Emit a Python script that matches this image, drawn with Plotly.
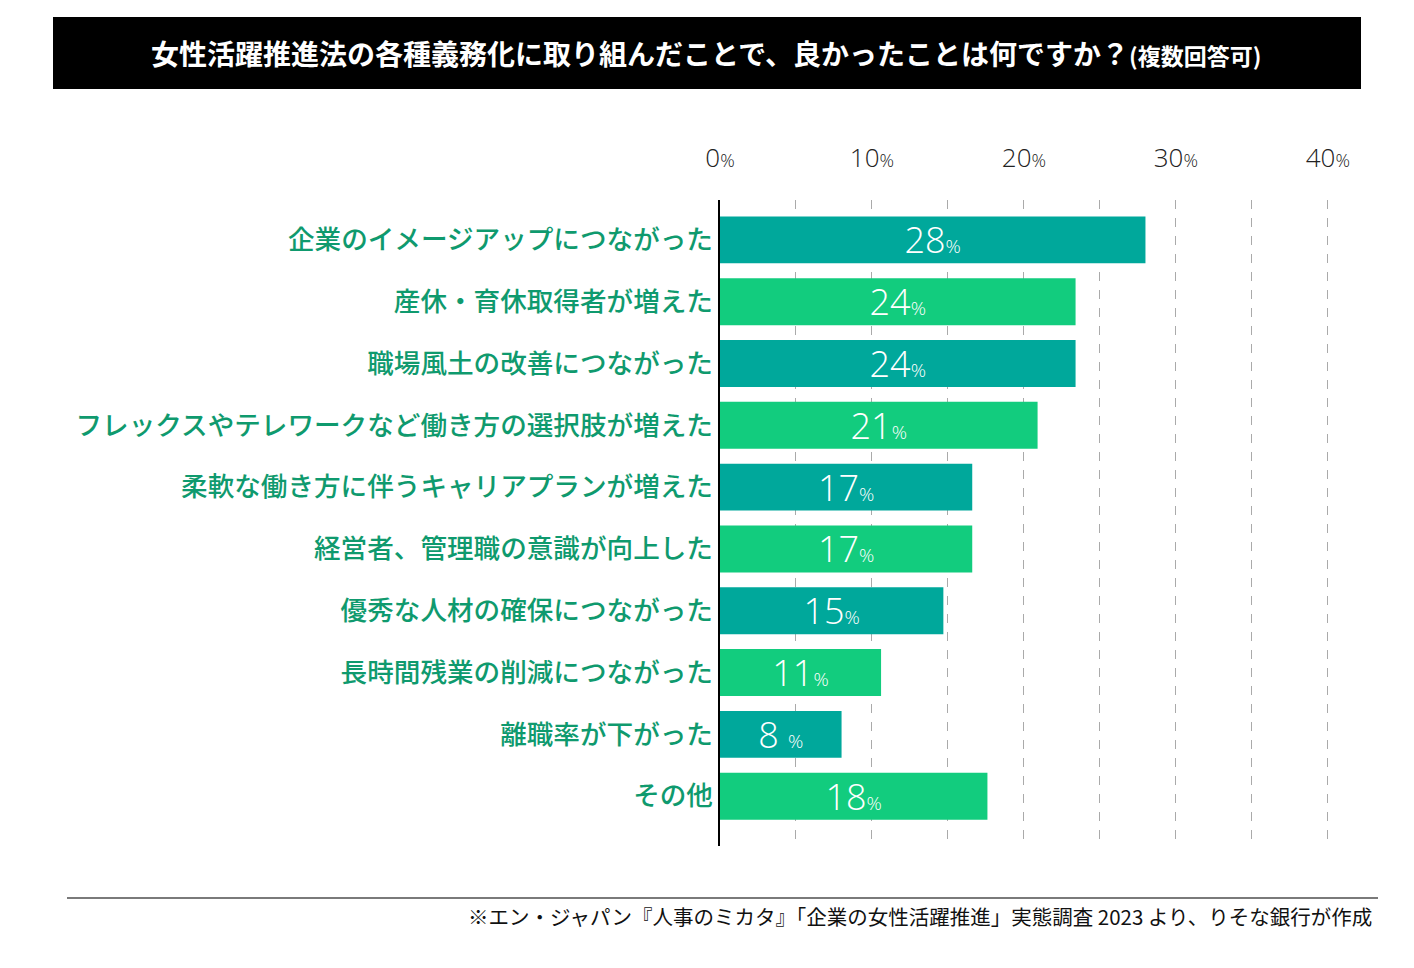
import plotly.graph_objects as go

categories = [
    "企業のイメージアップにつながった",
    "産休・育休取得者が増えた",
    "職場風土の改善につながった",
    "フレックスやテレワークなど働き方の選択肢が増えた",
    "柔軟な働き方に伴うキャリアプランが増えた",
    "経営者、管理職の意識が向上した",
    "優秀な人材の確保につながった",
    "長時間残業の削減につながった",
    "離職率が下がった",
    "その他",
]
values = [28.0, 23.4, 23.4, 20.9, 16.6, 16.6, 14.7, 10.6, 8.0, 17.6]
value_labels = ["28", "24", "24", "21", "17", "17", "15", "11", "8 ", "18"]
tick_values = [0, 10, 20, 30, 40]
tick_labels = ["0", "10", "20", "30", "40"]

TEAL = "#00A89B"
GREEN = "#12CC7E"
LABEL = "#0F9A6E"
bar_colors = [TEAL if i % 2 == 0 else GREEN for i in range(len(categories))]

# page body has an 8px margin; work in page coordinates and offset
OFF = 8
W, H = 1414 - OFF, 968 - OFF
L, R, T, B = 720 - OFF, 71, 200 - OFF, 122
pw, ph = W - L - R, H - T - B

def px(x):
    return (x - OFF - L) / pw

def py(y):
    return 1 - (y - OFF - T) / ph

fig = go.Figure()
fig.add_trace(go.Bar(
    y=categories,
    x=values,
    orientation="h",
    marker=dict(color=bar_colors, line=dict(width=0)),
    text=[f"{v}<span style='font-size:19px'>%</span>" for v in value_labels],
    textposition="inside",
    insidetextanchor="middle",
    textangle=0,
    constraintext="none",
    textfont=dict(family="Open Sans", size=36, color="white", weight=300),
    hoverinfo="skip",
))

fig.update_layout(
    width=W, height=H,
    margin=dict(l=L, r=R, t=T, b=B),
    paper_bgcolor="white",
    plot_bgcolor="white",
    bargap=0.24,
    showlegend=False,
    font=dict(family="Noto Sans CJK JP"),
    xaxis=dict(
        side="top",
        range=[0, 41],
        tickvals=tick_values,
        ticktext=[f"{t}<span style='font-size:18px'>%</span>" for t in tick_labels],
        tickfont=dict(family="Open Sans", size=26, color="#222222", weight=300),
        ticks="",
        ticklabelstandoff=27,
        showgrid=True,
        gridcolor="#AAAAAA",
        griddash="dash",
        gridwidth=1,
        minor=dict(dtick=5, showgrid=True, gridcolor="#AAAAAA", griddash="dash", gridwidth=1),
        zeroline=False,
        showline=False,
        fixedrange=True,
    ),
    yaxis=dict(
        type="category",
        range=[9.806, -0.645],
        tickfont=dict(family="Noto Sans CJK JP", size=26.6, color=LABEL, weight=500),
        ticks="",
        ticklabelstandoff=0,
        showline=True,
        linecolor="#000000",
        linewidth=1.5,
        showgrid=False,
        zeroline=False,
        fixedrange=True,
    ),
)

# title bar
fig.add_shape(type="rect", xref="paper", yref="paper",
              x0=px(53), x1=px(1361), y0=py(89), y1=py(17),
              fillcolor="black", line=dict(width=0), layer="above")
fig.add_annotation(
    xref="paper", yref="paper", x=px(706), y=py(53),
    xanchor="center", yanchor="middle", showarrow=False,
    text="<b>女性活躍推進法の各種義務化に取り組んだことで、良かったことは何ですか？</b>"
         "<b><span style='font-size:23px'>(複数回答可)</span></b>",
    font=dict(family="Noto Sans CJK JP", size=28, color="white"),
)

# footer
fig.add_shape(type="line", xref="paper", yref="paper",
              x0=px(67), x1=px(1378), y0=py(898), y1=py(898),
              line=dict(color="#7A7A7A", width=2))
fig.add_annotation(
    xref="paper", yref="paper", x=px(1374), y=py(916),
    xanchor="right", yanchor="middle", showarrow=False,
    text="※エン・ジャパン『人事のミカタ』「企業の女性活躍推進」実態調査 2023 より、りそな銀行が作成",
    font=dict(family="Noto Sans CJK JP", size=20.5, color="#111111"),
)

fig.write_html("out.html")
